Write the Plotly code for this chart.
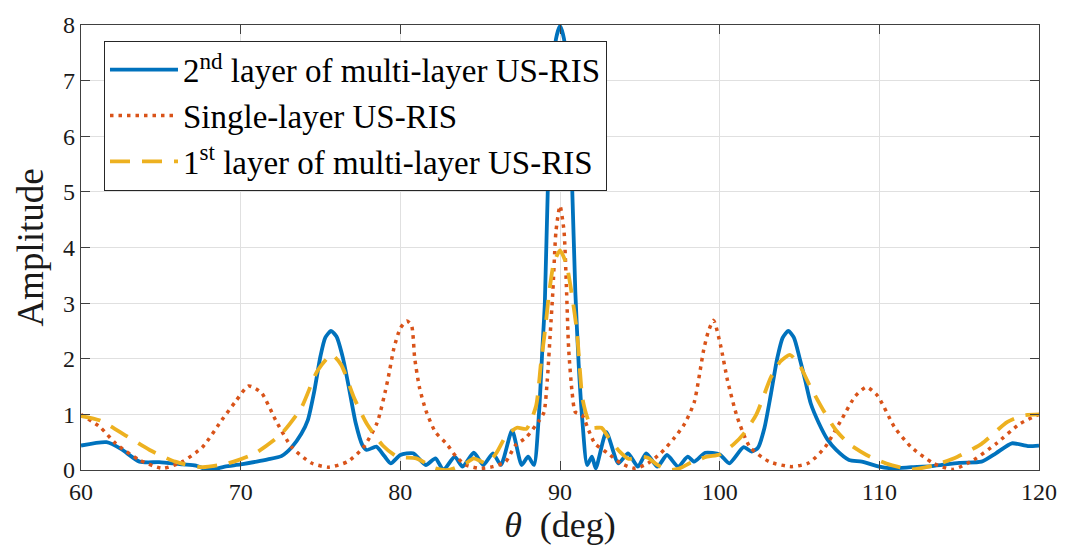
import plotly.graph_objects as go

# 2nd layer of multi-layer US-RIS (blue, solid)
theta_2nd = [60, 61.6, 62.5, 63.66, 64.9, 66.35, 67.2, 68.0, 69.0, 70.0, 71.0, 71.7, 72.55, 73.2, 73.8,
             74.2, 74.6, 75.0, 75.3, 75.66, 76.0, 76.4, 76.8, 77.2, 77.62, 77.9, 78.5, 79.0, 79.4, 80.0,
             80.8, 81.6, 82.2, 82.7, 83.4, 83.9, 84.6, 85.2, 85.8, 86.3, 87.0, 87.6, 88.0, 88.37, 88.68,
             88.9, 89.05, 89.25, 89.5, 89.75, 90.0, 90.25, 90.5, 90.75, 90.96, 91.17, 91.4, 91.7, 92.0,
             92.24, 92.9, 93.65, 94.26, 94.88, 95.4, 96.1, 96.7, 97.4, 98.0, 98.4, 99.1, 100.0, 100.6,
             101.5, 102.0, 102.4, 102.8, 103.2, 103.6, 103.95, 104.3, 104.65, 105.0, 105.35, 105.7,
             106.2, 106.75, 107.3, 108.1, 108.9, 110.0, 110.8, 112.0, 113.3, 115.0, 116.4, 117.3,
             118.3, 119.3, 120]
amp_2nd = [0.44, 0.50, 0.38, 0.15, 0.14, 0.10, 0.08, 0.0, 0.06, 0.10, 0.15, 0.19, 0.25, 0.41, 0.65,
           0.89, 1.40, 2.05, 2.38, 2.50, 2.40, 2.02, 1.45, 0.85, 0.45, 0.36, 0.42, 0.25, 0.12, 0.27,
           0.30, 0.09, 0.21, 0.0, 0.24, 0.06, 0.31, 0.09, 0.30, 0.09, 0.71, 0.09, 0.24, 0.09, 1.0,
           2.2, 3.0, 5.2, 6.9, 7.75, 7.98, 7.75, 6.9, 5.2, 3.2, 1.9, 0.89, 0.09, 0.24,
           0.03, 0.68, 0.12, 0.30, 0.06, 0.30, 0.06, 0.27, 0.06, 0.24, 0.15, 0.31, 0.28, 0.12,
           0.41, 0.33, 0.40, 0.75, 1.35, 2.00, 2.38, 2.50, 2.38, 2.02, 1.62, 1.20,
           0.85, 0.55, 0.36, 0.18, 0.15, 0.06, 0.03, 0.05, 0.07, 0.13, 0.15, 0.3,
           0.48, 0.43, 0.44]

# Single-layer US-RIS (orange, dotted)
theta_single = [60, 61.2, 62.2, 63.66, 65.1, 66.35, 67.6, 68.8, 69.7, 70.5, 71.3, 72.2, 73.2, 74.4, 75.5,
                76.7, 77.7, 78.55, 79.2, 79.6, 80.0, 80.4, 80.7, 80.9, 81.2, 81.6, 82.2, 82.9, 83.5, 84.1,
                84.95, 85.8, 86.6, 87.2, 87.9, 88.7, 89.0, 89.2, 89.4, 89.55, 89.75, 90.0, 90.25, 90.4,
                90.54, 90.75, 90.96, 91.4, 91.8, 92.2, 93.0, 93.8, 94.7, 95.5, 96.3, 97.2, 97.8, 98.4,
                99.0, 99.3, 99.62, 100.05, 100.5, 101.1, 101.9, 103.1, 104.5, 105.6, 106.6, 107.6, 108.5,
                109.2, 109.9, 110.95, 112.0, 113.4, 114.6, 115.9, 117.3, 118.8, 120]
amp_single = [1.0, 0.77, 0.47, 0.18, 0.03, 0.15, 0.41, 0.89, 1.24, 1.51, 1.39, 0.89, 0.41, 0.13, 0.05,
              0.15, 0.41, 0.85, 1.60, 2.19, 2.55, 2.68, 2.60, 2.01, 1.48, 1.07, 0.68, 0.47, 0.24, 0.09,
              0.03, 0.06, 0.15, 0.44, 0.59, 0.89, 1.04, 1.6, 2.5, 3.2, 4.3, 4.75, 4.3, 3.3,
              2.19, 1.42, 1.04, 0.98, 0.71, 0.47, 0.30, 0.12, 0.03, 0.12, 0.30, 0.59, 0.83, 1.21,
              2.16, 2.5, 2.69, 2.25, 1.6, 0.95, 0.41, 0.15, 0.06, 0.13, 0.41, 0.89, 1.33,
              1.49, 1.33, 0.77, 0.41, 0.12, 0.01, 0.18, 0.47, 0.83, 1.0]

# 1st layer of multi-layer US-RIS (yellow, dashed)
theta_1st = [60, 61.2, 62.8, 64.3, 65.9, 67.6, 69.2, 70.9, 72.55, 73.8, 74.8, 75.7, 76.3, 77.1, 77.9,
             78.9, 79.8, 81.0, 82.2, 83.0, 84.1, 84.6, 85.4, 86.0, 86.6, 87.3, 87.9, 88.5, 88.8, 89.1,
             89.3, 89.6, 90.0, 90.4, 90.75, 91.06, 91.4, 91.7, 92.0, 92.6, 93.0, 93.74, 94.3, 95.0,
             95.5, 96.1, 96.8, 97.4, 98.2, 99.2, 100.0, 100.9, 101.5, 102.3, 103.2, 103.8, 104.4,
             105.0, 105.6, 106.5, 107.3, 108.1, 109.2, 110.4, 112.0, 113.5, 114.9, 116.4, 118.0,
             119.0, 120]
amp_1st = [0.97, 0.89, 0.62, 0.36, 0.15, 0.05, 0.12, 0.30, 0.65, 1.12, 1.78, 2.07, 1.89, 1.30, 0.83,
           0.44, 0.24, 0.21, 0.03, 0.0, 0.12, 0.21, 0.12, 0.30, 0.6, 0.76, 0.74, 1.15, 1.9, 2.6,
           3.14, 3.7, 3.95, 3.7, 3.14, 2.49, 1.3, 0.95, 0.76, 0.76, 0.6, 0.33, 0.2, 0.24,
           0.22, 0.09, 0.0, 0.02, 0.13, 0.24, 0.28, 0.47, 0.65, 1.0, 1.66, 1.95, 2.07,
           1.89, 1.54, 1.07, 0.71, 0.47, 0.27, 0.12, 0.01, 0.09, 0.24, 0.47, 0.86,
           0.98, 1.0]

x_ticks = [60, 70, 80, 90, 100, 110, 120]
y_ticks = [0, 1, 2, 3, 4, 5, 6, 7, 8]

SERIF = "Liberation Serif, DejaVu Serif, serif"

fig = go.Figure()
fig.add_trace(go.Scatter(
    x=theta_2nd, y=amp_2nd, mode="lines", legendgroup="a",
    name="2<sup>nd</sup> layer of multi-layer US-RIS",
    line=dict(color="#0072BD", width=3.8, shape="spline", smoothing=0.6)))
fig.add_trace(go.Scatter(
    x=theta_single, y=amp_single, mode="lines", legendgroup="b",
    name="Single-layer US-RIS",
    line=dict(color="#D95319", width=3.5, dash="3.5px,5px", shape="spline", smoothing=0.6)))
fig.add_trace(go.Scatter(
    x=theta_1st, y=amp_1st, mode="lines", legendgroup="c",
    name="1<sup>st</sup> layer of multi-layer US-RIS",
    line=dict(color="#EDB120", width=3.8, dash="20px,12px", shape="spline", smoothing=0.6)))

axis_common = dict(
    showgrid=True, gridcolor="#e0e0e0", gridwidth=1,
    showline=True, linecolor="#404040", linewidth=1.2, mirror="ticks",
    ticks="inside", ticklen=9, tickcolor="#404040", tickwidth=1,
    zeroline=False,
    tickfont=dict(family=SERIF, size=24, color="#1a1a1a"),
)

fig.update_layout(
    width=1069, height=549,
    margin=dict(l=81, r=21, t=20, b=79),
    paper_bgcolor="white", plot_bgcolor="white",
    font=dict(family=SERIF, color="#1a1a1a"),
    xaxis=dict(range=[60, 120], tickvals=x_ticks, ticktext=[str(v) for v in x_ticks],
               title=dict(text="<i>θ</i>  (deg)", font=dict(family=SERIF, size=36), standoff=2),
               **axis_common),
    yaxis=dict(range=[0, 8], tickvals=y_ticks, ticktext=[str(v) for v in y_ticks],
               title=dict(text="Amplitude", font=dict(family=SERIF, size=37), standoff=8),
               **axis_common),
    legend=dict(
        x=0.024, y=0.965, xanchor="left", yanchor="top",
        bgcolor="white", bordercolor="#262626", borderwidth=1,
        font=dict(family=SERIF, size=33, color="#000000"),
        itemwidth=68, tracegroupgap=0,
    ),
    showlegend=True,
)

fig.write_html("out.html")
